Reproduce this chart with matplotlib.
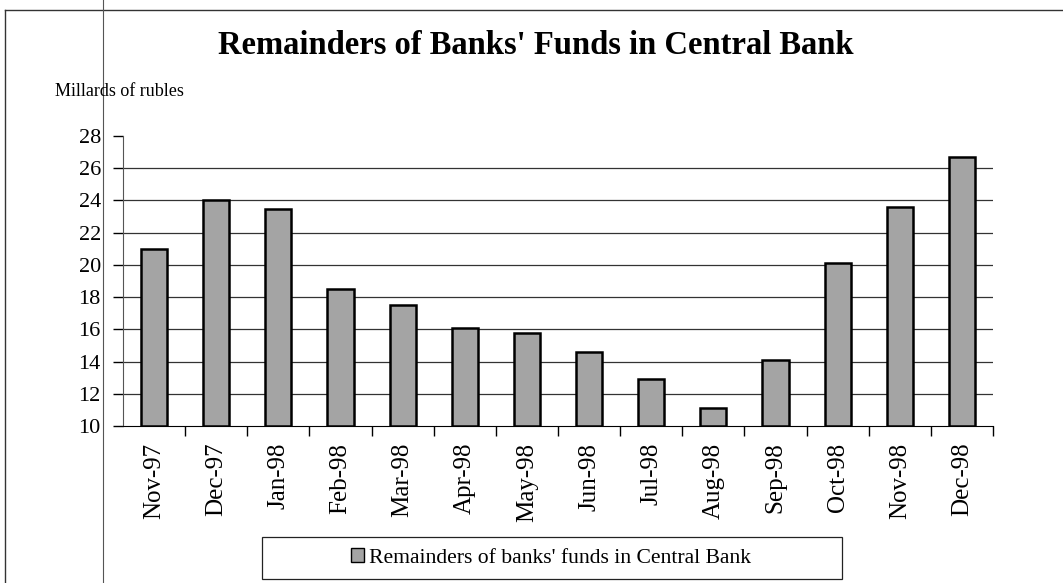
import matplotlib
matplotlib.use("Agg")
import matplotlib.pyplot as plt
from matplotlib.lines import Line2D
from matplotlib.patches import Patch, Rectangle

months = ["Nov-97", "Dec-97", "Jan-98", "Feb-98", "Mar-98", "Apr-98", "May-98",
          "Jun-98", "Jul-98", "Aug-98", "Sep-98", "Oct-98", "Nov-98", "Dec-98"]
funds = [21.0, 24.0, 23.5, 18.5, 17.5, 16.1, 15.8, 14.6, 12.9, 11.1, 14.1, 20.1, 23.6, 26.7]
yticks = [10, 12, 14, 16, 18, 20, 22, 24, 26, 28]

serif = ["Liberation Serif", "DejaVu Serif"]
plt.rcParams["font.family"] = serif

W, H = 1063, 583
fig = plt.figure(figsize=(W / 100, H / 100), dpi=100)
ax = fig.add_axes([123 / W, 1 - 426 / H, 870 / W, 290 / H])

x = list(range(len(months)))
ax.bar(x, [v - 10 for v in funds], bottom=10, width=0.42, color="#a4a4a4",
       edgecolor="black", linewidth=1.8, zorder=3)

ax.set_xlim(-0.5, len(months) - 0.5)
ax.set_ylim(10, 28)
ax.set_yticks(yticks)
ax.set_yticklabels([str(t) for t in yticks], fontsize=16, family=serif)
for t in yticks[1:-1]:
    ax.axhline(t, color="#333333", linewidth=0.9, zorder=1)

ax.set_xticks(x)
ax.set_xticklabels(months, rotation=90, fontsize=18, family=serif)
ax.tick_params(axis="x", which="major", length=0, pad=12)
ax.set_xticks([i + 0.5 for i in range(len(months))], minor=True)
ax.tick_params(axis="x", which="minor", length=7, width=1, color="black", direction="out")
ax.tick_params(axis="y", length=7, width=1, direction="out", pad=9)

for s in ["top", "right"]:
    ax.spines[s].set_visible(False)
ax.spines["left"].set_color("#555555")
ax.spines["bottom"].set_color("black")

fig.text(0.504, 1 - 46 / H, "Remainders of Banks' Funds in Central Bank", ha="center", va="center",
         fontsize=23.5, fontweight="bold")
fig.text(55 / W, 1 - 92 / H, "Millards of rubles", ha="left", va="center", fontsize=13)

leg = fig.legend(handles=[Patch(facecolor="#a4a4a4", edgecolor="black", linewidth=1)],
                 labels=["Remainders of banks' funds in Central Bank"],
                 loc="center left", bbox_to_anchor=(351 / W, 1 - 558 / H), fontsize=15.6,
                 frameon=False, handlelength=0.6, handleheight=0.6, handletextpad=0.25,
                 borderpad=0.0, borderaxespad=0.0)
fig.add_artist(Rectangle((262 / W, 1 - 579 / H), 580 / W, 42 / H,
                         transform=fig.transFigure, fill=False, edgecolor="#222222",
                         linewidth=0.9))

# outer frame and scan line
fig.add_artist(Line2D([5 / W, 5 / W], [0, 1 - 10 / H], color="#333333", linewidth=1))
fig.add_artist(Line2D([5 / W, 1], [1 - 10 / H, 1 - 10 / H], color="#333333", linewidth=1))
fig.add_artist(Line2D([103 / W, 103 / W], [0, 1], color="#555555", linewidth=0.8))

fig.savefig("out.png", dpi=100)
